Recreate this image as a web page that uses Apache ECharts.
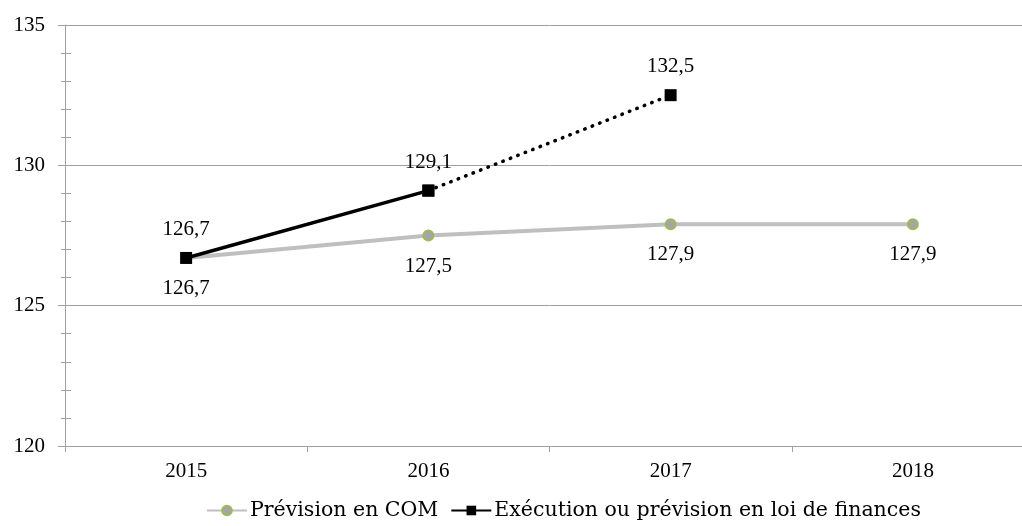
<!DOCTYPE html>
<html>
<head>
<meta charset="utf-8">
<script src="https://cdn.jsdelivr.net/npm/echarts@6/dist/echarts.min.js"></script>
<style>
  html, body { margin: 0; padding: 0; background: #fff; overflow: hidden; }
  /* The plot area runs a little past the right edge of the window */
  #chart { width: 1034px; height: 526px; }
</style>
</head>
<body>
<div id="chart"></div>
<script>
// Years on the category axis
const years = ['2015', '2016', '2017', '2018'];
// Forecast in the COM
const comValues = [126.7, 127.5, 127.9, 127.9];
// Execution (2015-2016) then finance-law forecast (2017)
const execValues = [126.7, 129.1, 132.5, null];
// Index of the last executed year: solid up to it, dotted after
const lastExecIndex = 1;
// Value axis ticks
const yTicks = [120, 125, 130, 135];

const FONT = 'Liberation Serif';
const LEGEND_FONT = 'DejaVu Serif';
const fmt = v => v.toFixed(1).replace('.', ',');

const execSolid = execValues.map((v, i) => (i <= lastExecIndex ? v : null));
const execDotted = execValues.map((v, i) => (i >= lastExecIndex ? v : null));

const chart = echarts.init(document.getElementById('chart'), null, { renderer: 'canvas' });

const comName = 'Prévision en COM';
const execName = 'Exécution ou prévision en loi de finances';
const axisGrey = '#a0a0a0';

const valueAxisBase = {
  type: 'value',
  min: yTicks[0],
  max: yTicks[yTicks.length - 1],
  interval: yTicks[1] - yTicks[0]
};

chart.setOption({
  animation: false,
  textStyle: { fontFamily: FONT },
  grid: { left: 65, right: 0, top: 25, bottom: 80 },
  legend: {
    bottom: 0,
    left: 201,
    itemGap: 12,
    itemWidth: 40,
    itemHeight: 12,
    textStyle: { fontFamily: LEGEND_FONT, fontSize: 20.5, color: '#000', padding: [0, 0, 0, -2] },
    data: [comName, execName]
  },
  xAxis: {
    type: 'category',
    data: years,
    boundaryGap: true,
    axisLine: { lineStyle: { color: axisGrey, width: 1 } },
    axisTick: { show: true, length: 6, lineStyle: { color: axisGrey } },
    axisLabel: { margin: 15, fontFamily: FONT, fontSize: 21, color: '#000' },
    splitLine: { show: false }
  },
  yAxis: [Object.assign({}, valueAxisBase, {
    axisLine: { show: true, lineStyle: { color: axisGrey, width: 1 } },
    axisTick: { show: true, length: 7, lineStyle: { color: axisGrey } },
    minorTick: { show: true, splitNumber: 5, length: 4, lineStyle: { color: axisGrey } },
    axisLabel: { margin: 20, fontFamily: FONT, fontSize: 21, color: '#000' },
    splitLine: { show: true, lineStyle: { color: axisGrey, width: 1 } }
  }), Object.assign({}, valueAxisBase, {
    // inner half of the minor tick marks
    position: 'left',
    axisLine: { show: false },
    axisTick: { show: true, inside: true, length: 0, lineStyle: { color: 'rgba(0,0,0,0)' } },
    minorTick: { show: true, splitNumber: 5, length: 6, lineStyle: { color: axisGrey } },
    axisLabel: { show: false },
    splitLine: { show: false }
  })],
  series: [
    {
      name: comName,
      type: 'line',
      data: comValues,
      symbol: 'circle',
      symbolSize: 10,
      z: 2,
      lineStyle: { color: '#bfbfbf', width: 4 },
      itemStyle: { color: '#a5a5a5', borderColor: '#9bbb59', borderWidth: 2 },
      label: {
        show: true,
        position: 'bottom',
        distance: 14,
        fontFamily: FONT,
        fontSize: 21,
        color: '#000',
        formatter: p => fmt(p.value)
      }
    },
    {
      name: execName,
      type: 'line',
      data: execSolid,
      symbol: 'rect',
      symbolSize: 12,
      z: 4,
      lineStyle: { color: '#000', width: 3.5 },
      itemStyle: { color: '#000' },
      label: {
        show: true,
        position: 'top',
        distance: 12,
        fontFamily: FONT,
        fontSize: 21,
        color: '#000',
        formatter: p => fmt(p.value)
      }
    },
    {
      name: execName,
      type: 'line',
      data: execDotted,
      symbol: 'rect',
      symbolSize: 12,
      z: 3,
      lineStyle: { color: '#000', width: 3.5, type: [0.5, 7.5], cap: 'round' },
      itemStyle: { color: '#000' },
      label: {
        show: true,
        position: 'top',
        distance: 12,
        fontFamily: FONT,
        fontSize: 21,
        color: '#000',
        formatter: p => (p.dataIndex > lastExecIndex ? fmt(p.value) : '')
      }
    }
  ]
});
</script>
</body>
</html>
